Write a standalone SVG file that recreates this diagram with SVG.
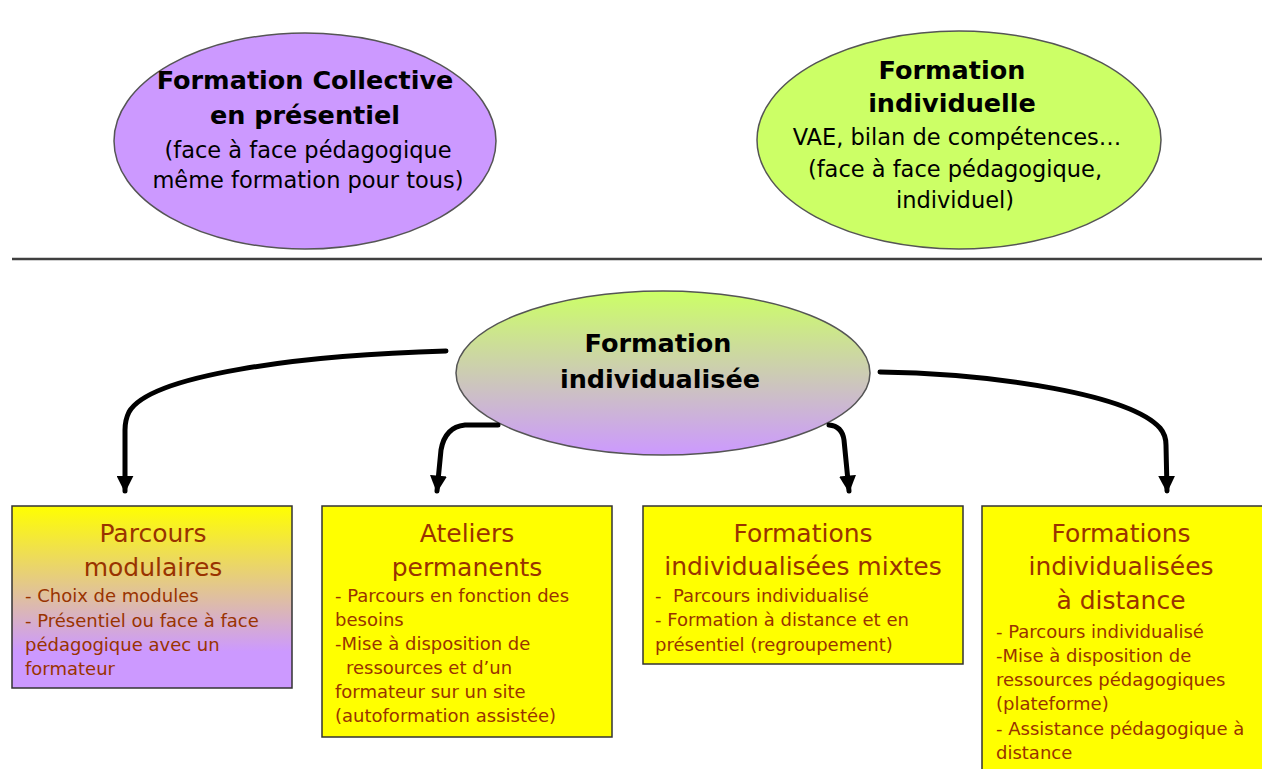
<svg xmlns="http://www.w3.org/2000/svg" width="1262" height="769" viewBox="0 0 1262 769">
<defs>
<linearGradient id="gMid" x1="0" y1="0" x2="0" y2="1">
<stop offset="0" stop-color="#ccff66"/>
<stop offset="1" stop-color="#cc99ff"/>
</linearGradient>
<linearGradient id="gBox1" x1="0" y1="0" x2="0" y2="1">
<stop offset="0" stop-color="#ffff00"/>
<stop offset="0.8" stop-color="#cc99ff"/>
<stop offset="1" stop-color="#cc99ff"/>
</linearGradient>
<marker id="arr" viewBox="0 0 10 10" refX="9" refY="5" markerWidth="3.4" markerHeight="3.4" orient="auto" markerUnits="strokeWidth">
<path d="M0,0 L10,5 L0,10 Z" fill="#000"/>
</marker>
<style>
.ell{stroke:#555;stroke-width:1.5}
.box{stroke:#333;stroke-width:1.5}
.hb{font-family:"DejaVu Sans",Verdana,sans-serif;font-weight:bold;font-size:25.5px;fill:#000;text-anchor:middle}
.hn{font-family:"DejaVu Sans",Verdana,sans-serif;font-size:22.5px;fill:#000;text-anchor:middle}
.bt{font-family:"DejaVu Sans",sans-serif;font-size:25px;fill:#993300;text-anchor:middle}
.bb{font-family:"DejaVu Sans",sans-serif;font-size:18px;fill:#993300}
.con{fill:none;stroke:#000;stroke-width:5;stroke-linecap:round;stroke-linejoin:round}
</style>
</defs>
<rect width="1262" height="769" fill="#fff"/>

<g id="collective">
<ellipse class="ell" cx="305" cy="141" rx="191" ry="108" fill="#cc99ff"/>
<text class="hb" x="305" y="89">Formation Collective</text>
<text class="hb" x="305" y="124">en présentiel</text>
<text class="hn" x="308" y="158">(face à face pédagogique</text>
<text class="hn" x="308" y="188">même formation pour tous)</text>
</g>

<g id="individuelle">
<ellipse class="ell" cx="959" cy="140" rx="202" ry="109" fill="#ccff66"/>
<text class="hb" x="952" y="79">Formation</text>
<text class="hb" x="952" y="112">individuelle</text>
<text class="hn" x="957" y="145">VAE, bilan de compétences…</text>
<text class="hn" x="955" y="177">(face à face pédagogique,</text>
<text class="hn" x="955" y="208">individuel)</text>
</g>

<line x1="12" y1="259" x2="1262" y2="259" stroke="#404040" stroke-width="2.5"/>

<g id="individualisee">
<ellipse class="ell" cx="663" cy="373" rx="207" ry="82" fill="url(#gMid)"/>
<text class="hb" x="658" y="352">Formation</text>
<text class="hb" x="660" y="388">individualisée</text>
</g>

<g id="connectors">
<path class="con" d="M446,351 C300,355 150,375 129,412 Q125,420 125,430 L125,491" marker-end="url(#arr)"/>
<path class="con" d="M498,425 L465,425 Q445,427 441,450 L437,491" marker-end="url(#arr)"/>
<path class="con" d="M829,425 Q842,426 844,440 L849,491" marker-end="url(#arr)"/>
<path class="con" d="M880,372 C1000,374 1130,395 1160,428 Q1166,435 1166,445 L1167,491" marker-end="url(#arr)"/>
</g>

<g id="parcours">
<rect class="box" x="12" y="506" width="280" height="182" fill="url(#gBox1)"/>
<text class="bt" x="153" y="542">Parcours</text>
<text class="bt" x="153" y="576">modulaires</text>
<text class="bb" x="25" y="602">- Choix de modules</text>
<text class="bb" x="25" y="627">- Présentiel ou face à face</text>
<text class="bb" x="25" y="651">pédagogique avec un</text>
<text class="bb" x="25" y="675">formateur</text>
</g>

<g id="ateliers">
<rect class="box" x="322" y="506" width="290" height="231" fill="#ffff00"/>
<text class="bt" x="467" y="542">Ateliers</text>
<text class="bt" x="467" y="576">permanents</text>
<text class="bb" x="335" y="602">- Parcours en fonction des</text>
<text class="bb" x="335" y="626">besoins</text>
<text class="bb" x="335" y="650">-Mise à disposition de</text>
<text class="bb" x="346" y="674">ressources et d’un</text>
<text class="bb" x="335" y="698">formateur sur un site</text>
<text class="bb" x="335" y="722">(autoformation assistée)</text>
</g>

<g id="mixtes">
<rect class="box" x="643" y="506" width="320" height="158" fill="#ffff00"/>
<text class="bt" x="803" y="542">Formations</text>
<text class="bt" x="803" y="575">individualisées mixtes</text>
<text class="bb" x="655" y="602">-</text>
<text class="bb" x="673" y="602">Parcours individualisé</text>
<text class="bb" x="655" y="626">- Formation à distance et en</text>
<text class="bb" x="655" y="651">présentiel (regroupement)</text>
</g>

<g id="distance">
<rect class="box" x="982" y="506" width="290" height="270" fill="#ffff00"/>
<text class="bt" x="1121" y="542">Formations</text>
<text class="bt" x="1121" y="575">individualisées</text>
<text class="bt" x="1121" y="609">à distance</text>
<text class="bb" x="996" y="638">- Parcours individualisé</text>
<text class="bb" x="996" y="662">-Mise à disposition de</text>
<text class="bb" x="996" y="686">ressources pédagogiques</text>
<text class="bb" x="996" y="710">(plateforme)</text>
<text class="bb" x="996" y="735">- Assistance pédagogique à</text>
<text class="bb" x="996" y="759">distance</text>
</g>
</svg>
